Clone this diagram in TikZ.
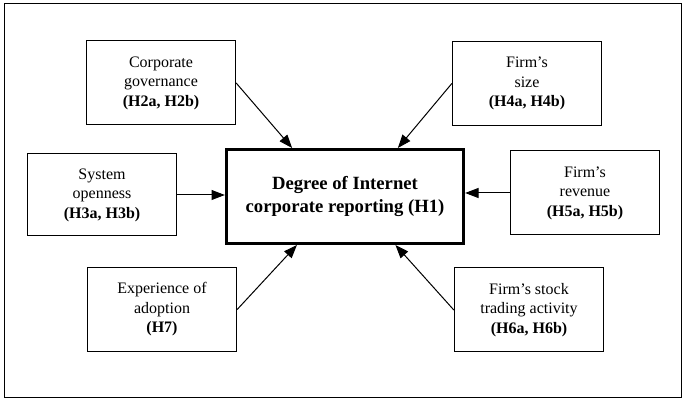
\documentclass[tikz,border=0pt]{standalone}
\usepackage{fontspec}
\setmainfont{Liberation Serif}
\usetikzlibrary{arrows.meta,calc}

\begin{document}
\begin{tikzpicture}[x=0.75pt,y=-0.75pt,
  factor/.style={draw,line width=0.75pt,align=center,minimum width=112pt,minimum height=63pt,inner sep=2pt,font=\fontsize{12}{14.6}\selectfont},
  link/.style={line width=0.75pt,-{Triangle[length=10pt,width=7.5pt]}}]
\useasboundingbox (0,0) rectangle (687,403);
\draw[line width=0.75pt] (4,4) rectangle (681,398);
\node[draw,line width=2.25pt,minimum width=178pt,minimum height=70.5pt,align=center,font=\fontsize{14}{17.5}\selectfont\bfseries] at (345,196.5) (core) {Degree of Internet\\corporate reporting (H1)};
\node[factor] at (161,83) (govern) {Corporate\\governance\\\textbf{(H2a, H2b)}};
\node[factor,minimum height=61.5pt] at (102,195) (open) {System\\openness\\\textbf{(H3a, H3b)}};
\node[factor] at (162,309.5) (adopt) {Experience of\\adoption\\\textbf{(H7)}};
\node[factor] at (527,83.5) (size) {Firm’s\\size\\\textbf{(H4a, H4b)}};
\node[factor] at (585,193) (revenue) {Firm’s\\revenue\\\textbf{(H5a, H5b)}};
\node[factor] at (529,310) (stock) {Firm’s stock\\trading activity\\\textbf{(H6a, H6b)}};
\draw[link] (govern.east) -- ($(core.north west)!0.28!(core.north east)$);
\draw[link] (size.west) -- ($(core.north west)!0.72!(core.north east)$);
\draw[link] (open.east) -- (open.east -| core.west);
\draw[link] (revenue.west) -- (revenue.west -| core.east);
\draw[link] (adopt.east) -- ($(core.south west)!0.30!(core.south east)$);
\draw[link] (stock.west) -- ($(core.south west)!0.71!(core.south east)$);
\end{tikzpicture}
\end{document}
